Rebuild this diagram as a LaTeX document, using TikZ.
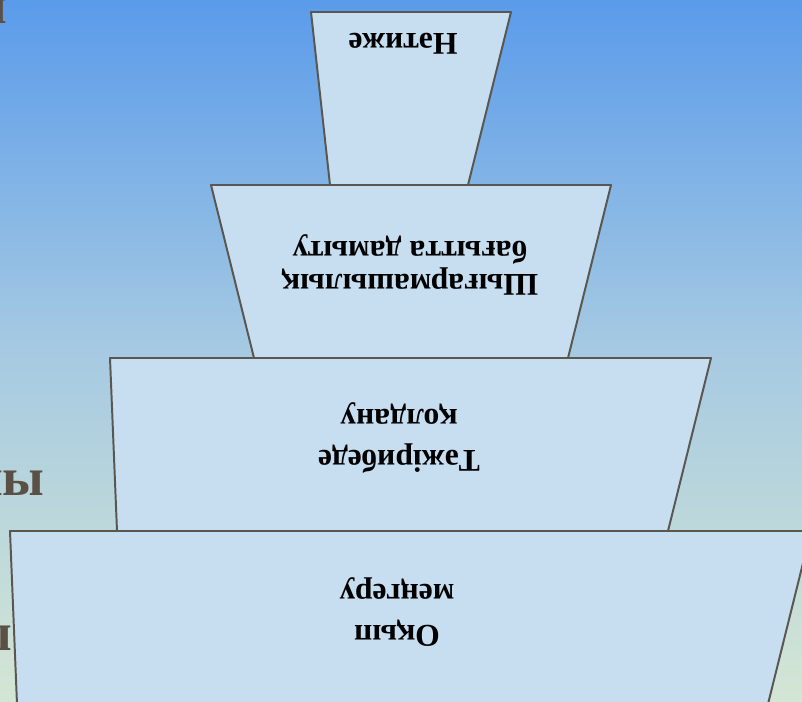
\documentclass[tikz,border=0pt]{standalone}
\usepackage{fontspec}
\setmainfont{Liberation Serif}
\usetikzlibrary{positioning}

\definecolor{skytop}{HTML}{5A9BEA}
\definecolor{skymid}{HTML}{A6CAE2}
\definecolor{skybottom}{HTML}{D4E6D4}
\definecolor{boxblue}{HTML}{C7DDF0}
\definecolor{edgegray}{HTML}{5A5650}
\definecolor{ghostbrown}{HTML}{5B5046}

\tikzset{
  level/.style={draw=edgegray, line width=1.4pt, fill=boxblue, line join=round},
  caption/.style={font=\bfseries\fontsize{22.5}{29}\selectfont, align=center, rotate=180, inner sep=0pt},
  ghost/.style={font=\bfseries\fontsize{38}{38}\selectfont, text=ghostbrown, anchor=east, inner sep=0pt}
}

\begin{document}
\begin{tikzpicture}[x=0.025cm,y=-0.025cm]
	\useasboundingbox (0,0) rectangle (802,702);
	\shade[top color=skytop, bottom color=skybottom, middle color=skymid] (0,0) rectangle (802,702);

	% letters of the slide behind, cut off at the left edge
	\node[ghost] (g1) at (8,11)   {ы};
	\node[ghost] (g2) at (45,483) {ны};
	\node[ghost] (g3) at (13,638) {ы};

	% the four levels, widest at the bottom
	\draw[level] (311,12) -- (511,12) -- (468,185) -- (330,185) -- cycle;
	\draw[level] (211,185) -- (611,185) -- (568,358) -- (254,358) -- cycle;
	\draw[level] (110,358) -- (711,358) -- (668,531) -- (117,531) -- cycle;
	\draw[level] (10,531) -- (811,531) -- (768,704) -- (17,704) -- cycle;

	\node[caption] (1) at (403,44)  {Нәтиже};
	\node[caption, font=\bfseries\fontsize{22.5}{24}\selectfont] (2) at (410,265) {Шығармашылық\\бағытта дамыту};
	\node[caption] (3) at (399,438) {Тәжірибеде\\қолдану};
	\node[caption] (4) at (397,612) {Оқып\\меңгеру};
\end{tikzpicture}
\end{document}
